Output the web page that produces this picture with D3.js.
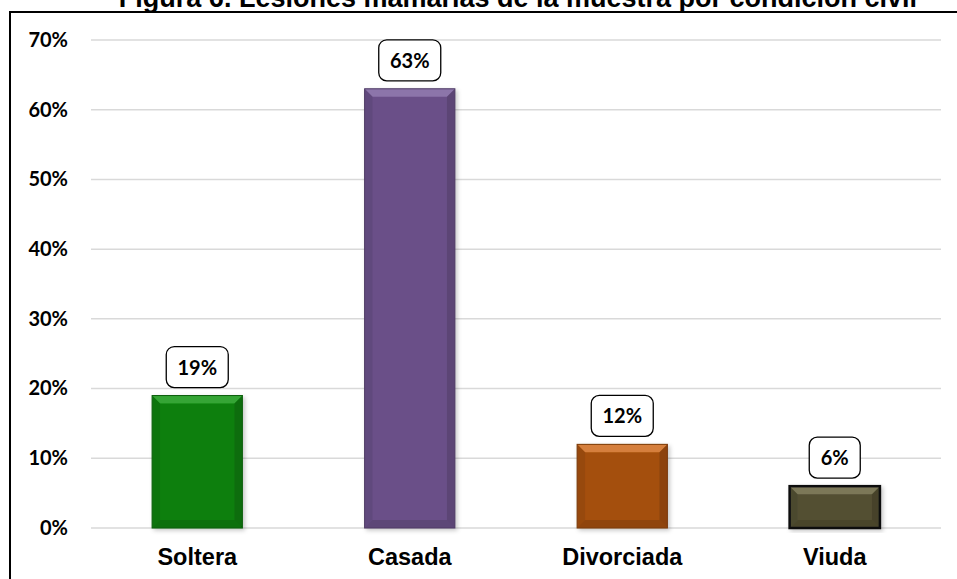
<!DOCTYPE html>
<html>
<head>
<meta charset="utf-8">
<script src="https://cdn.jsdelivr.net/npm/d3@7"></script>
<style>
  body { margin: 0; background: #fff; }
  svg { display: block; }
</style>
</head>
<body>
<div id="chart"></div>
<script>
// Data

const categories = ["Soltera", "Casada", "Divorciada", "Viuda"];
const values = [19, 63, 12, 6];
const yTicks = [0, 10, 20, 30, 40, 50, 60, 70];
const barColors = ["#0a7f0a", "#6a5088", "#a44f0e", "#534f33"];
const bevelColors = ["#35a535", "#8c75aa", "#d57f3c", "#7c7858"];
const title = "Figura 6. Lesiones mamarias de la muestra por condición civil";

// Core chart

const width = 957;
const height = 579;

const margin = { top: 40, bottom: 51, left: 91, right: 16 };

const svg = d3
  .select("#chart")
  .append("svg")
  .attr("width", width)
  .attr("height", height);

const defs = svg.append("defs");
defs
  .append("filter")
  .attr("id", "shadow")
  .attr("x", "-20%")
  .attr("y", "-10%")
  .attr("width", "140%")
  .attr("height", "120%")
  .append("feDropShadow")
  .attr("dx", 2)
  .attr("dy", 2)
  .attr("stdDeviation", 2)
  .attr("flood-color", "#000")
  .attr("flood-opacity", 0.22);

// title, partly cut off at the top (as in the source picture)
svg
  .append("text")
  .attr("x", 518)
  .attr("y", 7)
  .attr("text-anchor", "middle")
  .style("font-family", "'Liberation Sans', Arial, sans-serif")
  .style("font-weight", "bold")
  .style("font-size", "27px")
  .text(title);

// frame
svg
  .append("path")
  .attr("d", `M10,${height + 5} L10,12 L${width + 5},12`)
  .attr("fill", "none")
  .attr("stroke", "#000")
  .attr("stroke-width", 2);

const xScale = d3
  .scaleBand()
  .domain(categories)
  .range([margin.left, width - margin.right])
  .paddingInner(0.575)
  .paddingOuter(0.2875);

const yScale = d3
  .scaleLinear()
  .domain([0, 70])
  .range([height - margin.bottom, margin.top]);

// gridlines
svg
  .append("g")
  .selectAll("line")
  .data(yTicks)
  .join("line")
  .attr("x1", margin.left)
  .attr("x2", width - margin.right)
  .attr("y1", (d) => yScale(d))
  .attr("y2", (d) => yScale(d))
  .attr("stroke", "#d9d9d9")
  .attr("stroke-width", 1.5);

// y axis labels
const yAxis = svg
  .append("g")
  .attr("transform", `translate(${margin.left}, 0)`)
  .call(
    d3
      .axisLeft(yScale)
      .tickValues(yTicks)
      .tickFormat((d) => d + "%")
      .tickSize(0)
      .tickPadding(23)
  );
yAxis.select(".domain").remove();
yAxis
  .selectAll("text")
  .attr("fill", "#000")
  .style("font-family", "Lato, 'Open Sans', sans-serif")
  .style("font-weight", "bold")
  .style("font-size", "20px");

// x axis labels
const xAxis = svg
  .append("g")
  .attr("transform", `translate(0, ${yScale(0)})`)
  .call(d3.axisBottom(xScale).tickSize(0).tickPadding(20));
xAxis.select(".domain").remove();
xAxis
  .selectAll("text")
  .attr("fill", "#000")
  .style("font-family", "'Liberation Sans', Arial, sans-serif")
  .style("font-weight", "bold")
  .style("font-size", "23.5px");

// bars with bevel
const bw = xScale.bandwidth();
const bevel = 8;

const bars = svg
  .append("g")
  .selectAll("g")
  .data(values)
  .join("g")
  .attr("filter", "url(#shadow)");

bars
  .append("rect")
  .attr("x", (d, i) => xScale(categories[i]))
  .attr("y", (d) => yScale(d))
  .attr("width", bw)
  .attr("height", (d) => yScale(0) - yScale(d))
  .attr("fill", (d, i) => barColors[i]);

// top bevel
bars
  .append("path")
  .attr("d", (d, i) => {
    const x0 = xScale(categories[i]);
    const y0 = yScale(d);
    return `M${x0},${y0} L${x0 + bw},${y0} L${x0 + bw - bevel},${y0 + bevel} L${x0 + bevel},${y0 + bevel} Z`;
  })
  .attr("fill", (d, i) => bevelColors[i]);

// side bevels
bars
  .append("path")
  .attr("d", (d, i) => {
    const x0 = xScale(categories[i]);
    const y0 = yScale(d);
    const y1 = yScale(0);
    return `M${x0},${y0} L${x0 + bevel},${y0 + bevel} L${x0 + bevel},${y1 - bevel} L${x0},${y1} Z`;
  })
  .attr("fill", "#000")
  .attr("opacity", 0.08);

bars
  .append("path")
  .attr("d", (d, i) => {
    const x0 = xScale(categories[i]) + bw;
    const y0 = yScale(d);
    const y1 = yScale(0);
    return `M${x0},${y0} L${x0 - bevel},${y0 + bevel} L${x0 - bevel},${y1 - bevel} L${x0},${y1} Z`;
  })
  .attr("fill", "#000")
  .attr("opacity", 0.14);

bars
  .append("path")
  .attr("d", (d, i) => {
    const x0 = xScale(categories[i]);
    const y1 = yScale(0);
    return `M${x0},${y1} L${x0 + bevel},${y1 - bevel} L${x0 + bw - bevel},${y1 - bevel} L${x0 + bw},${y1} Z`;
  })
  .attr("fill", "#000")
  .attr("opacity", 0.12);

// outline
bars
  .append("rect")
  .attr("x", (d, i) => xScale(categories[i]))
  .attr("y", (d) => yScale(d))
  .attr("width", bw)
  .attr("height", (d) => yScale(0) - yScale(d))
  .attr("fill", "none")
  .attr("stroke", (d, i) => (i === 3 ? "#111" : d3.color(barColors[i]).darker(0.8)))
  .attr("stroke-width", (d, i) => (i === 3 ? 2.5 : 1));

// data labels in rounded boxes
const labels = svg
  .append("g")
  .selectAll("g")
  .data(values)
  .join("g")
  .attr("transform", (d, i) => `translate(${xScale(categories[i]) + bw / 2}, ${yScale(d) - 8})`);

const boxWidth = (d) => (String(d).length === 1 ? 51 : 62);

labels
  .append("rect")
  .attr("x", (d) => -boxWidth(d) / 2)
  .attr("y", -41)
  .attr("width", boxWidth)
  .attr("height", 41)
  .attr("rx", 8)
  .attr("fill", "#fff")
  .attr("stroke", "#000")
  .attr("stroke-width", 1.3);

labels
  .append("text")
  .attr("x", 0)
  .attr("y", -13)
  .attr("text-anchor", "middle")
  .style("font-family", "Lato, 'Open Sans', sans-serif")
  .style("font-weight", "bold")
  .style("font-size", "20px")
  .text((d) => d + "%");
</script>
</body>
</html>
